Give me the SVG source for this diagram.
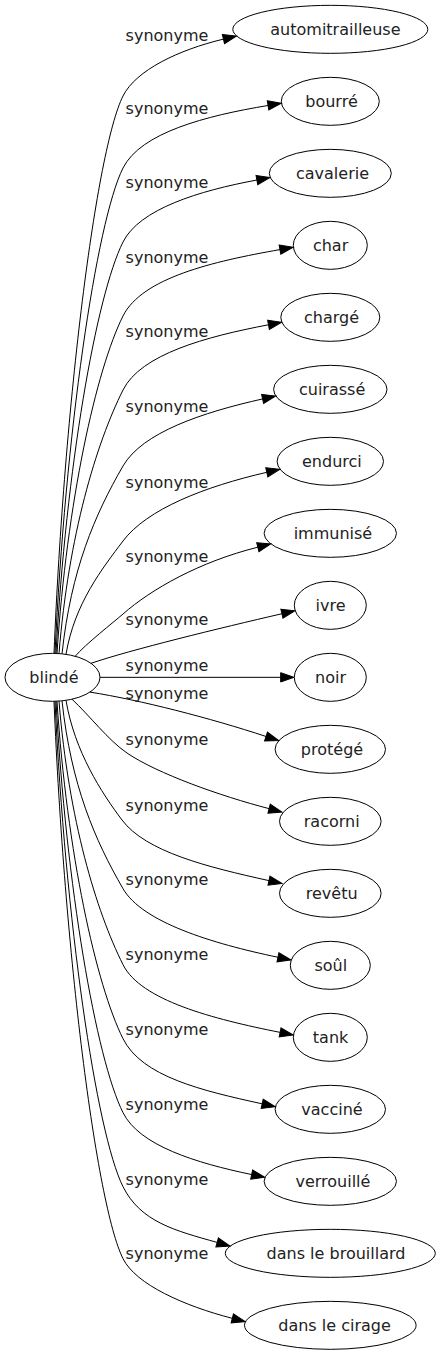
<svg xmlns="http://www.w3.org/2000/svg" width="441" height="1355" viewBox="0 0 441 1355">
<style>
  .node ellipse { fill: none; stroke: #000; stroke-width: 1; }
  text { font-family: "DejaVu Sans", "Liberation Sans", sans-serif; font-size: 16px; fill: #222; text-anchor: middle; }
  .edge path { fill: none; stroke: #000; stroke-width: 1; marker-end: url(#ah); }
</style>
<defs>
  <marker id="ah" markerWidth="14" markerHeight="10" viewBox="0 0 14 10" refX="0" refY="5" orient="auto" markerUnits="userSpaceOnUse" overflow="visible">
    <path d="M0,0.33 L13.33,5 L0,9.67 z" fill="#000" stroke="#000" stroke-width="1"/>
  </marker>
</defs>
<rect width="441" height="1355" fill="#fff"/>
<g id="edges">
  <g class="edge" id="e0"><path d="M54,653.35 C64.35,402.55 96.2,149.7 123,96 C135.9,70.2 178.5,49.9 223.44,39.11"/><text x="167" y="41">synonyme</text></g>
  <g class="edge" id="e1"><path d="M55,653.36 C65.2,434.96 96.2,221.7 123,168 C140.7,132.7 205.7,115.8 268.05,105.47"/><text x="167" y="114">synonyme</text></g>
  <g class="edge" id="e2"><path d="M56,653.4 C66.05,468.3 96.2,295.7 123,242 C139.5,209 198.9,190.8 256.89,180.02"/><text x="167" y="188">synonyme</text></g>
  <g class="edge" id="e3"><path d="M57,653.44 C66.9,501.6 96.2,369.7 123,316 C142,277.9 212.8,261.4 279.97,249.6"/><text x="167" y="263">synonyme</text></g>
  <g class="edge" id="e4"><path d="M59,653.56 C68.6,534.96 96.2,443.7 123,390 C140.8,354.3 205.8,336.7 268.5,324.79"/><text x="167" y="337">synonyme</text></g>
  <g class="edge" id="e5"><path d="M62,653.81 C71.15,569.3 94.85,514.76 123,466 C142.35,432.5 202.1,412.5 262.6,398.93"/><text x="167" y="412">synonyme</text></g>
  <g class="edge" id="e6"><path d="M66,654.32 C74.55,603.3 102.6,568.2 123,541 C146.9,509.2 204.6,486.6 266.8,472.3"/><text x="167" y="488">synonyme</text></g>
  <g class="edge" id="e7"><path d="M75,656.5 C85,644.5 113.6,622.25 123,614 C151.2,589.2 199.4,561.8 257.8,547.2"/><text x="167" y="562">synonyme</text></g>
  <g class="edge" id="e8"><path d="M91,663.3 C130,650 220,628 281.9,613.75"/><text x="167" y="625">synonyme</text></g>
  <g class="edge" id="e9"><path d="M100,677.33 L280.67,677.33"/><text x="167" y="671">synonyme</text></g>
  <g class="edge" id="e10"><path d="M90,692.1 C140,700 210,718 266.03,736.47"/><text x="167" y="699">synonyme</text></g>
  <g class="edge" id="e11"><path d="M72,699.2 C90,716 108,740 127,753 C157,773.5 220.7,796.1 269.1,808.65"/><text x="167" y="745">synonyme</text></g>
  <g class="edge" id="e12"><path d="M66,700.35 C74.55,751.37 101.6,792.8 122,820 C145.9,851.8 206.9,866.9 268.98,880.64"/><text x="167" y="811">synonyme</text></g>
  <g class="edge" id="e13"><path d="M62,700.86 C71.15,785.37 94.8,839.87 123,888.67 C142.4,922.17 211.6,943.4 277.95,957.26"/><text x="167" y="885">synonyme</text></g>
  <g class="edge" id="e14"><path d="M59,701.11 C68.6,819.71 96.2,910.97 123,964.67 C140.8,1000.37 213,1019 280.13,1032.39"/><text x="167" y="960">synonyme</text></g>
  <g class="edge" id="e15"><path d="M57,701.23 C66.9,853.07 96.2,984.97 123,1038.67 C142,1076.77 202.1,1090.6 262.18,1103.84"/><text x="167" y="1035">synonyme</text></g>
  <g class="edge" id="e16"><path d="M56,701.27 C66.05,886.37 96.2,1058.97 123,1112.67 C139.5,1145.67 195.75,1162.86 251.65,1174.56"/><text x="167" y="1110">synonyme</text></g>
  <g class="edge" id="e17"><path d="M55,701.31 C65.2,919.71 96.2,1133 123,1186.67 C140.7,1221.97 175,1230.6 217.16,1242.41"/><text x="167" y="1185">synonyme</text></g>
  <g class="edge" id="e18"><path d="M54,701.32 C64.35,952.12 96.2,1204.97 123,1258.67 C135.9,1284.47 184.1,1305.85 232.3,1318.35"/><text x="167" y="1259">synonyme</text></g>
</g>
<g id="node_blinde" class="node"><ellipse cx="52.5" cy="677.33" rx="47.5" ry="24"/><text x="53.9" y="682.6">blindé</text></g>
<g id="node_automitrailleuse" class="node"><ellipse cx="330.3" cy="29.33" rx="97.5" ry="24"/><text x="335.4" y="34.6">automitrailleuse</text></g>
<g id="node_bourre" class="node"><ellipse cx="330.3" cy="101.33" rx="49" ry="24"/><text x="331.5" y="106.6">bourré</text></g>
<g id="node_cavalerie" class="node"><ellipse cx="330.3" cy="173.33" rx="61" ry="24"/><text x="332.5" y="178.6">cavalerie</text></g>
<g id="node_char" class="node"><ellipse cx="330.3" cy="245.33" rx="37" ry="24"/><text x="330.6" y="250.6">char</text></g>
<g id="node_charge" class="node"><ellipse cx="330.3" cy="317.33" rx="49.5" ry="24"/><text x="331.6" y="322.6">chargé</text></g>
<g id="node_cuirasse" class="node"><ellipse cx="330.3" cy="389.33" rx="56.7" ry="24"/><text x="332.1" y="394.6">cuirassé</text></g>
<g id="node_endurci" class="node"><ellipse cx="330.3" cy="461.33" rx="53.2" ry="24"/><text x="331.9" y="466.6">endurci</text></g>
<g id="node_immunise" class="node"><ellipse cx="330.3" cy="533.33" rx="66.2" ry="24"/><text x="332.9" y="538.6">immunisé</text></g>
<g id="node_ivre" class="node"><ellipse cx="330.3" cy="605.33" rx="36" ry="24"/><text x="330.5" y="610.6">ivre</text></g>
<g id="node_noir" class="node"><ellipse cx="330.3" cy="677.33" rx="36" ry="24"/><text x="330.5" y="682.6">noir</text></g>
<g id="node_protege" class="node"><ellipse cx="330.3" cy="749.33" rx="55.2" ry="24"/><text x="332" y="754.6">protégé</text></g>
<g id="node_racorni" class="node"><ellipse cx="330.3" cy="821.33" rx="50.8" ry="24"/><text x="331.7" y="826.6">racorni</text></g>
<g id="node_revetu" class="node"><ellipse cx="330.3" cy="893.33" rx="50.8" ry="24"/><text x="331.7" y="898.6">revêtu</text></g>
<g id="node_soul" class="node"><ellipse cx="330.3" cy="965.33" rx="40" ry="24"/><text x="330.8" y="970.6">soûl</text></g>
<g id="node_tank" class="node"><ellipse cx="330.3" cy="1037.33" rx="37" ry="24"/><text x="330.6" y="1042.6">tank</text></g>
<g id="node_vaccine" class="node"><ellipse cx="330.3" cy="1109.33" rx="55.2" ry="24"/><text x="332" y="1114.6">vacciné</text></g>
<g id="node_verrouille" class="node"><ellipse cx="330.3" cy="1181.33" rx="66.2" ry="24"/><text x="332.9" y="1186.6">verrouillé</text></g>
<g id="node_dans_le_brouillard" class="node"><ellipse cx="330.3" cy="1253.33" rx="105" ry="24"/><text x="336" y="1258.6">dans le brouillard</text></g>
<g id="node_dans_le_cirage" class="node"><ellipse cx="330.3" cy="1325.33" rx="85.8" ry="24"/><text x="334.5" y="1330.6">dans le cirage</text></g>
</svg>
